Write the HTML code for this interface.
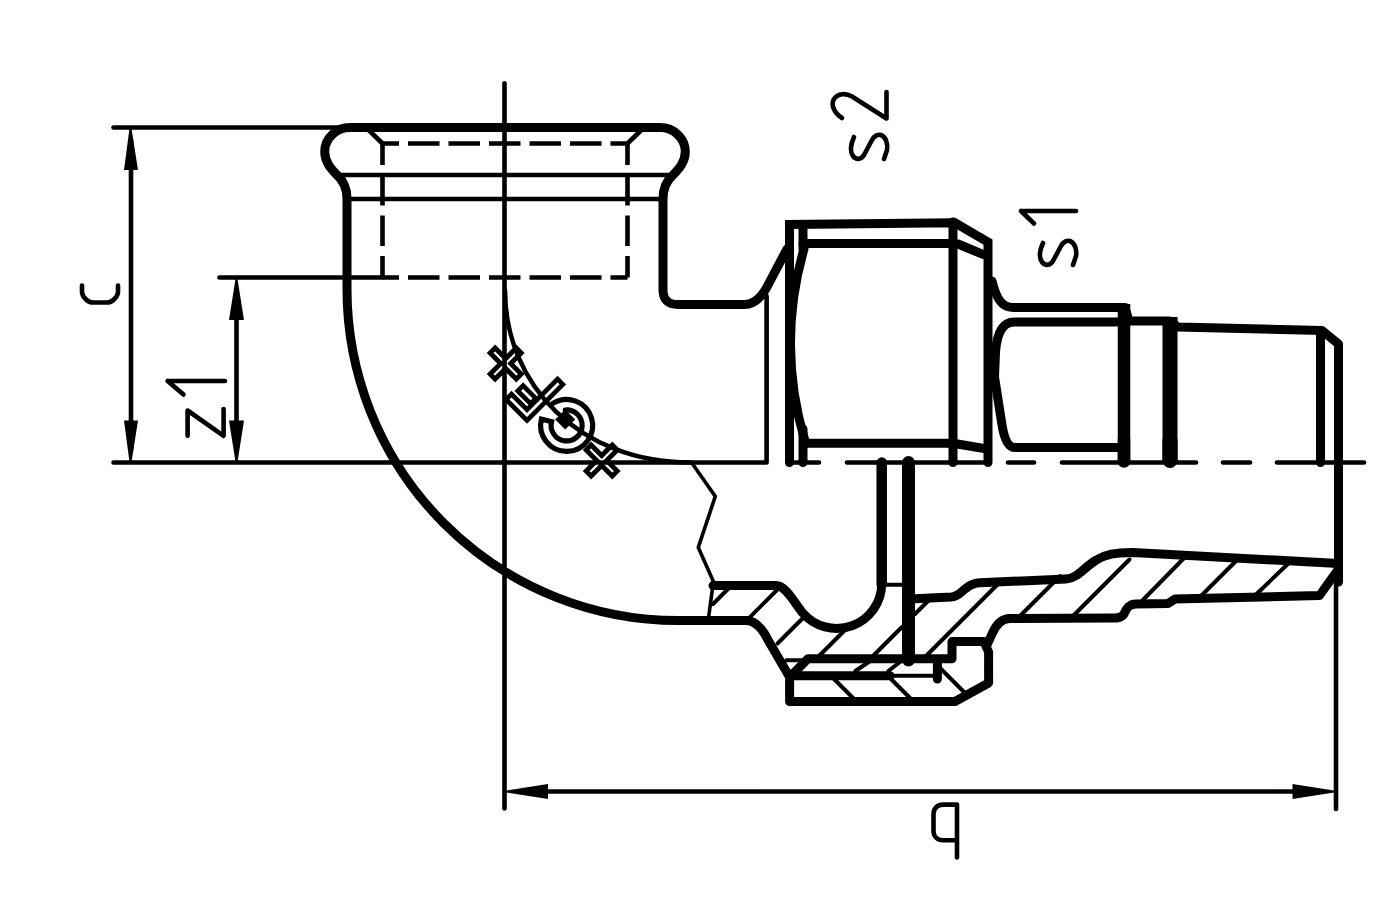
<!DOCTYPE html>
<html><head><meta charset="utf-8"><style>
html,body{margin:0;padding:0;background:#fff;width:1400px;height:900px;overflow:hidden}
svg{display:block}
</style></head><body>
<svg width="1400" height="900" viewBox="0 0 1400 900">
<rect width="1400" height="900" fill="#fff"/>
<g fill="none" stroke="#000" stroke-linecap="round" stroke-linejoin="round">

<!-- ===== thin dimension / centre lines ===== -->
<g stroke-width="4.6">
  <path d="M113.5,127.5 H362"/>
  <path d="M131,140 V450"/>
  <path d="M113.5,462.5 H766.6 V296"/>
  <path d="M219.5,277.5 H382.5"/>
  <path d="M236.5,290 V450"/>
  <path d="M504.5,83.3 V808.5"/>
  <path d="M1336,583 V809"/>
  <path d="M520,791.5 H1320"/>
  <!-- socket internal thin lines -->
  <path d="M341,175 H669"/>
  <path d="M347,199 H663"/>
  <path d="M367,128.5 L382.5,143.5"/>
  <path d="M643,128.5 L627.5,143.5"/>
</g>
<!-- dashed socket thread -->
<g stroke-width="4.6" stroke-linecap="butt">
  <path d="M382.5,143.5 H627.5" stroke-dasharray="31.5 9" stroke-dashoffset="15"/>
  <path d="M382.5,277.5 H627.5" stroke-dasharray="31.5 9" stroke-dashoffset="15"/>
  <path d="M382.5,143.5 V277.5" stroke-dasharray="30.5 10" stroke-dashoffset="9"/>
  <path d="M627.5,143.5 V277.5" stroke-dasharray="30.5 10" stroke-dashoffset="9"/>
</g>
<!-- dashed centre line right -->
<g stroke-width="4.6">
  <path d="M790,462.5 H819"/>
  <path d="M847,462.5 H987"/>
  <path d="M1008,462.5 H1034"/>
  <path d="M1062,462.5 H1196"/>
  <path d="M1223,462.5 H1250"/>
  <path d="M1277,462.5 H1364"/>
</g>

<!-- ===== arrows ===== -->
<g fill="#000" stroke="none">
  <path d="M129.5,128.5 L131.5,128.5 L138,170 L124,170 Z"/>
  <path d="M129.5,462 L131.5,462 L138,420.5 L124,420.5 Z"/>
  <path d="M235.5,279 L237.5,279 L244,320 L229,320 Z"/>
  <path d="M235.5,462 L237.5,462 L244,420.5 L229,420.5 Z"/>
  <path d="M506.5,790.5 L506.5,792.5 L548,799 L548,784 Z"/>
  <path d="M1334,790.5 L1334,792.5 L1292.5,799 L1292.5,784 Z"/>
</g>

<!-- ===== thick outlines ===== -->
<g stroke-width="9">
  <!-- socket left + outer elbow -->
  <path d="M650,127.5 L350,127.5 C336,127.5 324.7,138.5 324.7,151.6 C324.7,162 331,169 337,175 C344,181 347,189 347,199 L347,289 A331.5,331.5 0 0 0 678.5,620.6 L746,620.6 C756,620.6 763,630 768,640 L789.6,677 V701.5 L955,701.5 L988.6,683 V652 L984,641.6 H952 V658.7 H808 L792.7,674.2"/>
  <!-- socket right -->
  <path d="M650,127.5 L660,127.5 C674,127.5 685.3,138.5 685.3,151.6 C685.3,162 679,169 673,175 C666,181 663,189 663,199 L663,290 Q663,304.5 678,304.5 L744,304.5 C756,304.5 763,295 768,285 L787,249"/>
  <!-- nut -->
  <path d="M789.5,462.5 V224.5 L955,222.8 L988,242 V462.5" stroke-linejoin="miter"/>
  <path d="M953,222 V462.5"/>
  <path d="M803,229 V249"/>
  <path d="M803,429 V462.5"/>
  <path d="M803,243.6 H953"/>
  <path d="M958,244 L983,254.4"/>
  <path d="M804,249 A336,336 0 0 0 805,441"/>
  <path d="M806,443.3 H953 L987,449"/>
  <!-- male thread -->
  <path d="M992,281 C996,297 1001,307.5 1013,307.5 H1125 L1129,321 L1170,321 L1178,327 L1322,330.5 L1338.5,344 V582"/>
  <path d="M1124,304 V462.5" stroke-width="12.5" stroke-linecap="butt"/>
  <path d="M1124,440 V461.5" stroke-width="12.5"/>
  <path d="M1170,317 V462.5" stroke-width="15" stroke-linecap="butt"/>
  <path d="M1170,440 V460.5" stroke-width="15"/>
  <path d="M1320.5,331 V462.5"/>
  <path d="M1120,322 H1014 C1003,322 997,333 995.5,352 L994.5,377 L1001.7,423 C1004,439 1008,447.6 1015,447.6 H1120"/>
  <!-- section upper inner line with groove -->
  <path d="M713,585.6 H776 C786,585.6 794.5,603.1 802.2,612.3 A45,45 0 0 0 881.7,583.4 V462.5"/>
  <path d="M881.7,584 V462.5" stroke-width="10.5"/>
  <path d="M908.5,462.5 V660" stroke-width="13"/>
  <!-- right section -->
  <path d="M915,598.7 L951,597 C958,596.5 961,592 965,589 C969,586 972,583 980,582.8 L1066,579 C1074,578.5 1080,573 1088,566 C1096,559 1106,553.5 1120,553 L1133,552.5 L1338.5,563.5"/>
  <path d="M1338.5,569 L1319.5,595.5 L1175,599 L1168,603.6 L1136,604 C1128,604 1126,610 1124,614 C1122,617.5 1118,618 1112,618 L1010,618.5 C1000,618.5 995,627 992,634 L987,645"/>
  <path d="M792.7,675.8 H890"/>
  <path d="M937.4,663 V679"/>
</g>

<!-- thin section details -->
<g stroke-width="4">
  <path d="M890,675.8 H937"/>
  <path d="M786.4,660.2 H808"/>
  <path d="M882,584.8 H902"/>
  <!-- hatch / -->
  <path d="M713,604 L731,586"/>
  <path d="M746.4,620.6 L780.5,586.5"/>
  <path d="M777.5,643.5 L803,618"/>
  <path d="M816,659 L850,625"/>
  <path d="M870,659 L902,627"/>
  <path d="M915,614 L930,599"/>
  <path d="M923,659 L1002,580"/>
  <path d="M1017.5,618.5 L1060,576"/>
  <path d="M1071,618 L1129.5,559.5"/>
  <path d="M1141,602 L1188,554"/>
  <path d="M1200,597 L1241,556"/>
  <path d="M1255,595.5 L1293,559"/>
  <path d="M793,672.6 L807.8,661"/>
  <path d="M855.4,671 L870.2,661"/>
  <path d="M888.3,671 L901.4,661"/>
  <!-- hatch \ -->
  <path d="M831,676 L856,701"/>
  <path d="M888,676 L913,701"/>
  <path d="M941,669 L967,695"/>
</g>
<!-- break line -->
<path stroke-width="3.6" d="M692.6,464 L715.3,496.4 L698.3,547.4 L713.4,581.4 L708.7,616.7"/>
<!-- inner elbow curve -->
<path stroke-width="4.5" d="M505,290 C505,385 580,462.5 690,462.5"/>

<!-- ===== marks ===== -->
<g stroke-width="4.7" stroke-linejoin="miter">
  <g transform="translate(505.7,363.5) rotate(45)">
    <path stroke-width="4.8" d="M-3.5,-18.5 H3.5 V-3.5 H18.5 V3.5 H3.5 V18.5 H-3.5 V3.5 H-18.5 V-3.5 H-3.5 Z"/>
  </g>
  <g transform="translate(601.7,460.5) rotate(45)">
    <path stroke-width="4.8" d="M-3.5,-18.5 H3.5 V-3.5 H18.5 V3.5 H3.5 V18.5 H-3.5 V3.5 H-18.5 V-3.5 H-3.5 Z"/>
  </g>
  <g transform="translate(527,415) rotate(45)">
    <path d="M3.75,-47 L3.75,3.75 L-25.75,3.75 L-25.75,-3.75 L-3.75,-3.75 L-3.75,-47 Z M-23.5,-18 H-5.5 V-10.5 H-23.5 Z"/>
  </g>
  <path stroke-width="5.2" d="M552.8,403.4 A26,26 0 1 1 541.4,419.1 L551.6,421.65 A15.5,15.5 0 1 0 565.3,410"/>
</g>
<path fill="#000" stroke="none" d="M565.2,409.6 L575.2,419.6 L565.2,429.6 L555.2,419.6 Z"/>

<!-- ===== lettering ===== -->
<g stroke-width="4.6">
  <!-- C -->
  <path d="M82,285.5 V292 C82,295 84,297.5 86,299.5 C88,301.5 89.5,302.5 93,302.5 H107 C110.5,302.5 112,301.5 114,299.5 C116,297.5 118,295 118,292 V285.5"/>
  <!-- z1 -->
  <path d="M167.6,381 H225 M167.6,381 L183.5,394.5"/>
  <path d="M187.6,435.8 V410.5 L223.6,435.8 V409"/>
  <!-- b -->
  <path d="M957,857.5 V804.6 H943 C937.5,804.6 933.5,808.5 933.5,814 V831 C933.5,836.5 937.5,840.2 943,840.2 H957"/>
  <!-- s2 -->
  <path d="M886.5,92 V118.5 L852,96.5 C846,93 838,93 834,99 C831,104 833,112 842,118"/>
  <path d="M854,137 C850,146 850,152 853,156 C856,160 861,160 864,155 L872,140 C874,136 878,134 881,135 C886,137 888,144 887,150 L884,159"/>
  <!-- s1 -->
  <path d="M1021,211 H1076 M1021,211 L1034,223.5"/>
  <path d="M1043,243 C1039,252 1039,258 1042,262 C1045,266 1050,266 1053,261 L1061,246 C1063,242 1067,240 1070,241 C1075,243 1077,250 1076,256 L1073,265"/>
</g>
</g>
</svg>
</body></html>
